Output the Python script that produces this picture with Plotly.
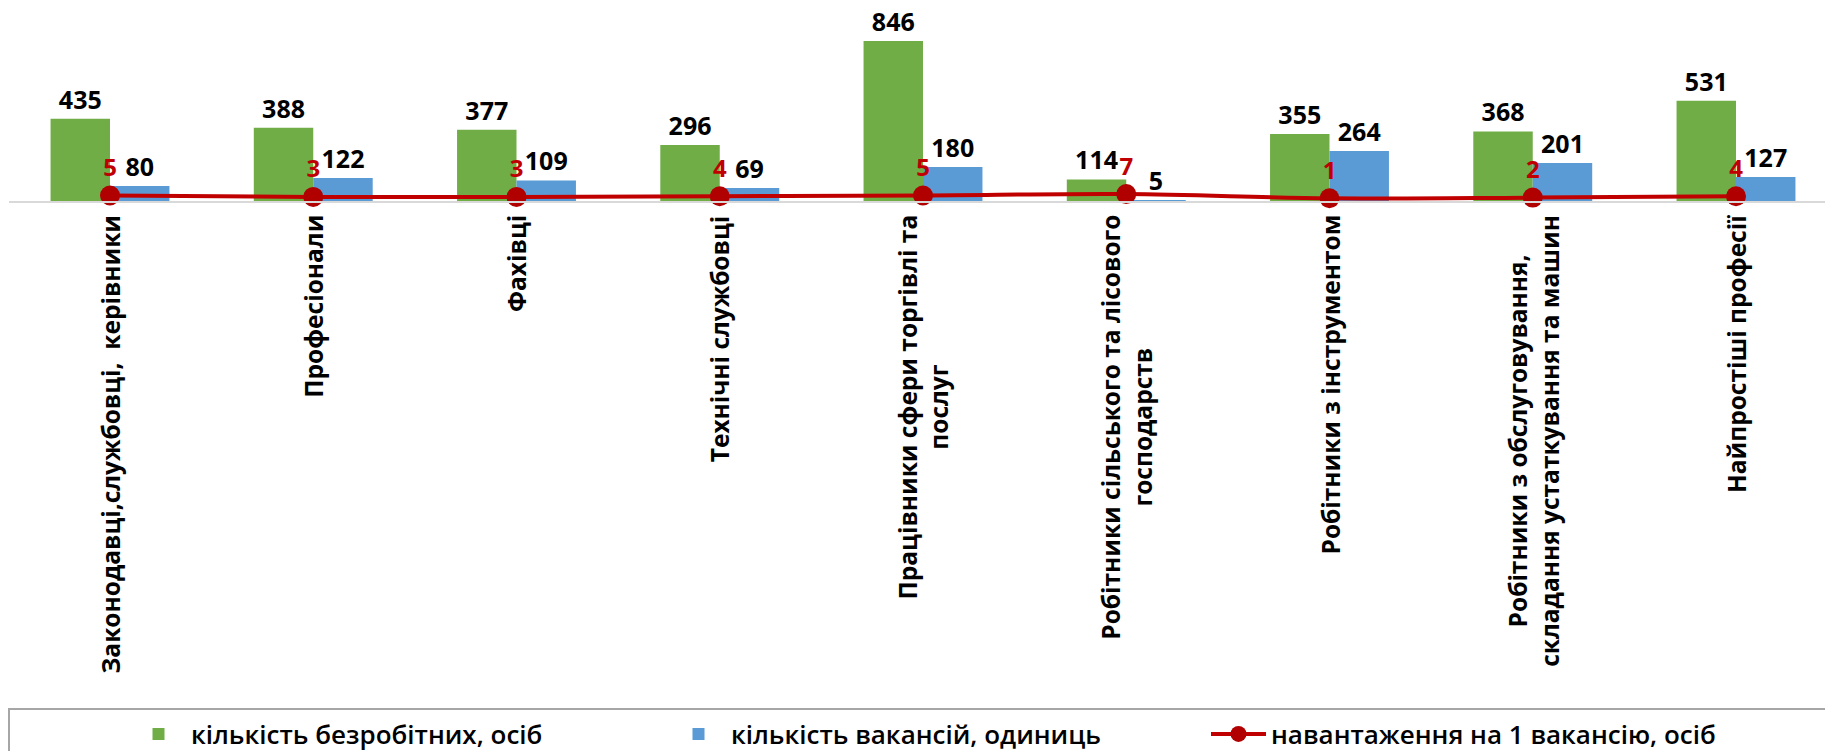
import plotly.graph_objects as go

categories = [
    "Законодавці,службовці,  керівники",
    "Професіонали",
    "Фахівці",
    "Технічні службовці",
    "Працівники сфери торгівлі та<br>послуг",
    "Робітники сільського та лісового<br>господарств",
    "Робітники з інструментом",
    "Робітники з обслуговування,<br>складання устаткування та машин",
    "Найпростіші професії",
]
unemployed = [435, 388, 377, 296, 846, 114, 355, 368, 531]
vacancies = [80, 122, 109, 69, 180, 5, 264, 201, 127]
load_per_vacancy = [5, 3, 3, 4, 5, 7, 1, 2, 4]

series_names = [
    "кількість безробітних, осіб",
    "кількість вакансій, одиниць",
    "навантаження на 1 вакансію, осіб",
]

# page body margin is removed (see post_script), so figure pixels = window pixels
W, H = 1825, 751
ML, MR, MT = 9, 0, 12
PLOT_BOTTOM = 201
MB = H - PLOT_BOTTOM
PLOT_H = PLOT_BOTTOM - MT
PLOT_W = W - ML - MR
CAT_STEP = 203.25          # pixels per category
FIRST_CAT_PX = 110         # centre of first category
LABEL_FONT = "Open Sans"

# secondary axis scale for the ratio line: px per unit and zero position
Y2_K = 0.7
Y2_ZERO_PX = 203
y2_lo = -(Y2_ZERO_PX - PLOT_BOTTOM) / Y2_K
y2_hi = y2_lo + PLOT_H / Y2_K

x_idx = list(range(len(categories)))

fig = go.Figure()
fig.add_trace(go.Bar(
    x=x_idx, y=unemployed, name=series_names[0],
    marker=dict(color="#70AD47", line=dict(width=0)),
    text=[str(v) for v in unemployed], textposition="outside",
    textfont=dict(family=LABEL_FONT, size=25, color="black", weight="bold"),
    constraintext="none", cliponaxis=False,
))
fig.add_trace(go.Bar(
    x=x_idx, y=vacancies, name=series_names[1],
    marker=dict(color="#5B9BD5", line=dict(width=0)),
    text=[str(v) for v in vacancies], textposition="outside",
    textfont=dict(family=LABEL_FONT, size=25, color="black", weight="bold"),
    constraintext="none", cliponaxis=False,
))
fig.add_trace(go.Scatter(
    x=x_idx, y=load_per_vacancy, name=series_names[2], yaxis="y2",
    mode="lines+markers+text",
    line=dict(color="#C00000", width=4, shape="spline"),
    marker=dict(color="#B00000", size=20),
    text=[str(v) for v in load_per_vacancy], textposition="top center",
    textfont=dict(family=LABEL_FONT, size=24, color="#C00000", weight="bold"),
    cliponaxis=False,
))

def px_y(p):
    return (PLOT_BOTTOM - p) / PLOT_H

def px_x(p):
    return (p - ML) / PLOT_W

# category labels, rotated, centred multi-line like the original
for i, c in enumerate(categories):
    fig.add_annotation(
        x=i, xref="x", y=px_y(213), yref="paper",
        text=c, textangle=-90, showarrow=False,
        xanchor="center", yanchor="top", align="center",
        font=dict(family=LABEL_FONT, size=24.5, color="black", weight="bold"),
    )

# legend frame (extends past the picture edge as in the original)
fig.add_shape(
    type="rect", xref="paper", yref="paper",
    x0=px_x(9), x1=px_x(1840), y0=px_y(709), y1=px_y(770),
    line=dict(color="#A6A6A6", width=2), fillcolor="rgba(0,0,0,0)", layer="below",
)

x_lo = (ML - FIRST_CAT_PX) / CAT_STEP
fig.update_layout(
    width=W, height=H,
    margin=dict(l=ML, r=MR, t=MT, b=MB, autoexpand=False),
    paper_bgcolor="white", plot_bgcolor="white",
    barmode="group", bargap=0.415, bargroupgap=0,
    showlegend=True,
    legend=dict(
        orientation="h", xref="container", yref="container",
        x=126 / W, xanchor="left", y=(H - 734) / H, yanchor="middle",
        entrywidth=470, entrywidthmode="pixels", itemwidth=55,
        font=dict(family=LABEL_FONT, size=26, color="black", weight=600),
        bgcolor="rgba(0,0,0,0)", traceorder="normal",
    ),
    xaxis=dict(
        range=[x_lo, x_lo + PLOT_W / CAT_STEP], showticklabels=False,
        showline=True, linecolor="#D9D9D9", linewidth=2,
        showgrid=False, zeroline=False, ticks="",
    ),
    yaxis=dict(range=[0, 1000], visible=False, showgrid=False, zeroline=False),
    yaxis2=dict(range=[y2_lo, y2_hi], overlaying="y", visible=False,
                showgrid=False, zeroline=False),
)

fig.write_html(
    "out.html",
    config={"displayModeBar": False},
    post_script="document.body.style.margin='0';document.body.style.overflow='hidden';",
)
